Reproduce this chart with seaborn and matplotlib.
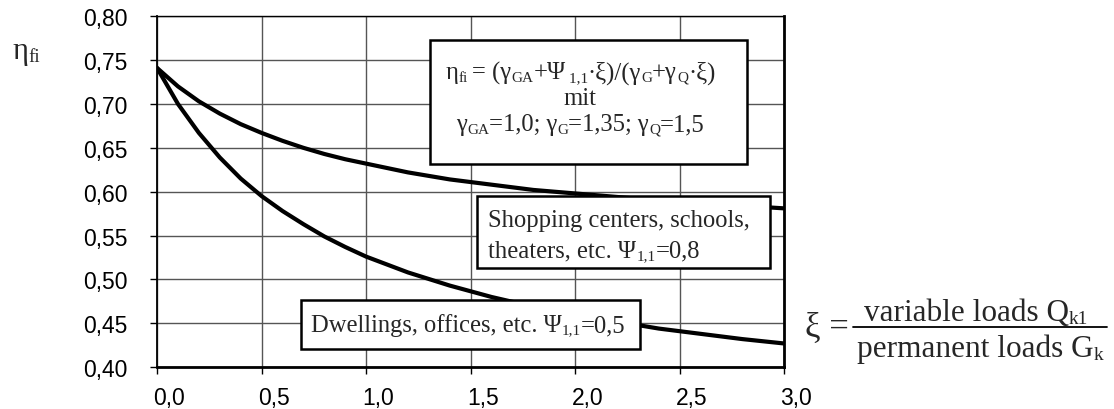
import matplotlib
matplotlib.use("Agg")
import matplotlib.pyplot as plt
import seaborn as sns
import pandas as pd
from matplotlib.patches import Rectangle
from matplotlib.lines import Line2D
from matplotlib.transforms import offset_copy, ScaledTranslation

# data
xi = [0.0, 0.1, 0.2, 0.3, 0.4, 0.5, 0.6, 0.7, 0.8, 0.9, 1.0, 1.2, 1.4, 1.6, 1.8, 2.0, 2.2, 2.4, 2.6, 2.8, 3.0]
eta_shopping = [0.741, 0.720, 0.703, 0.689, 0.677, 0.667, 0.658, 0.650, 0.643, 0.637, 0.632,
                0.622, 0.614, 0.608, 0.602, 0.598, 0.594, 0.590, 0.587, 0.584, 0.581]
eta_dwellings = [0.741, 0.700, 0.667, 0.639, 0.615, 0.595, 0.578, 0.563, 0.549, 0.537, 0.526,
                 0.508, 0.493, 0.480, 0.469, 0.460, 0.452, 0.444, 0.438, 0.432, 0.427]
x_ticks = [0.0, 0.5, 1.0, 1.5, 2.0, 2.5, 3.0]
y_ticks = [0.40, 0.45, 0.50, 0.55, 0.60, 0.65, 0.70, 0.75, 0.80]

df = pd.DataFrame({
    "xi": xi * 2,
    "eta": eta_shopping + eta_dwellings,
    "series": ["shopping"] * len(xi) + ["dwellings"] * len(xi),
})

sns.set_theme(style="white")
plt.rcParams["font.family"] = ["Liberation Sans", "DejaVu Sans"]

fig = plt.figure(figsize=(11.14, 4.10), dpi=100)
ax = fig.add_axes([0.141, 0.102, 0.563, 0.856])

sns.lineplot(data=df, x="xi", y="eta", hue="series", palette=["black", "black"],
             linewidth=3.0, legend=False, ax=ax, zorder=3)

ax.set_xlim(0, 3)
ax.set_ylim(0.40, 0.80)
ax.set_xticks(x_ticks)
ax.set_yticks(y_ticks)
ax.set_xticklabels([f"{v:.1f}".replace(".", ",") for v in x_ticks])
ax.set_yticklabels([f"{v:.2f}".replace(".", ",") for v in y_ticks])
ax.tick_params(axis="both", labelsize=16.5, colors="black", length=5, width=1,
               direction="out", bottom=True, left=True)
ax.tick_params(axis="x", pad=8.5)
ax.tick_params(axis="y", pad=16)
# x tick labels sit slightly to the right of their ticks in the reference
shift = ScaledTranslation(0.12, 0, fig.dpi_scale_trans)
for lab in ax.get_xticklabels():
    lab.set_transform(lab.get_transform() + shift)
ax.grid(True, color="#555555", linewidth=1.0)
ax.set_axisbelow(True)
ax.set_xlabel("")
ax.set_ylabel("")
for side, lw in [("top", 1.0), ("left", 1.3), ("bottom", 2.0), ("right", 2.0)]:
    ax.spines[side].set_visible(True)
    ax.spines[side].set_color("black")
    ax.spines[side].set_linewidth(lw)

serif = ["Liberation Serif", "DejaVu Serif"]
SUB = 0.62      # subscript scale
DROP = -0.10    # subscript baseline shift (em)

renderer = fig.canvas.get_renderer()


def rich(x, y, segs, size, transform, ha="left", zorder=6):
    """Draw a run of text segments (string, is_subscript) on one baseline."""
    parts = []
    for s, sub in segs:
        fs = size * SUB if sub else size
        t = fig.text(x, y, s, transform=transform, fontsize=fs, family=serif,
                     ha="left", va="baseline", zorder=zorder)
        parts.append((t, sub))
    widths = [t.get_window_extent(renderer).width for t, _ in parts]
    total = sum(widths)
    cur = -total / 2 if ha == "center" else 0.0
    for (t, sub), w in zip(parts, widths):
        dy = DROP * size * fig.dpi / 72 if sub else 0.0
        t.set_transform(offset_copy(transform, fig=fig, x=cur, y=dy, units="dots"))
        cur += w
    return parts


def box(x0, y0, x1, y1):
    r = Rectangle((x0, y0), x1 - x0, y1 - y0, transform=ax.transAxes,
                  facecolor="white", edgecolor="black", linewidth=1.8,
                  zorder=5, clip_on=False)
    ax.add_patch(r)


fs = 17.7
T = ax.transAxes

# formula box
box(0.435, 0.578, 0.941, 0.932)
rich(0.675, 0.823, [("η", False), ("fi", True), ("\u2009= (γ", False), ("GA", True),
                    ("+Ψ", False), ("\u20091,1", True), ("·ξ)/(γ", False), ("G", True),
                    ("+γ", False), ("Q", True), ("·ξ)", False)], fs, T, ha="center")
rich(0.675, 0.750, [("mit", False)], fs, T, ha="center")
rich(0.675, 0.675, [("γ", False), ("GA", True), ("=1,0; γ", False), ("G", True),
                    ("=1,35; γ", False), ("Q", True), ("=1,5", False)], fs, T, ha="center")

# shopping box
box(0.510, 0.282, 0.978, 0.487)
rich(0.528, 0.402, [("Shopping centers, schools,", False)], fs, T)
rich(0.528, 0.316, [("theaters, etc. Ψ", False), ("1,1", True), ("=0,8", False)], fs, T)

# dwellings box
box(0.230, 0.051, 0.770, 0.191)
rich(0.2456, 0.1026, [("Dwellings, offices, etc. Ψ", False), ("1,1", True), ("=0,5", False)], fs, T)

# y label
rich(0.0108, 0.856, [("η", False), ("fi", True)], 22, fig.transFigure)

# x label as fraction
F = fig.transFigure
fig.text(0.7225, 0.2, "ξ =", fontsize=25, family=serif, ha="left", va="center")
rich(0.876, 0.217, [("variable loads Q", False), ("k1", True)], 22.5, F, ha="center")
rich(0.880, 0.129, [("permanent loads G", False), ("k", True)], 22.5, F, ha="center")
fig.add_artist(Line2D([0.766, 0.994], [0.2, 0.2], transform=F, color="black", linewidth=1.3))

fig.savefig("out.png", dpi=100)
